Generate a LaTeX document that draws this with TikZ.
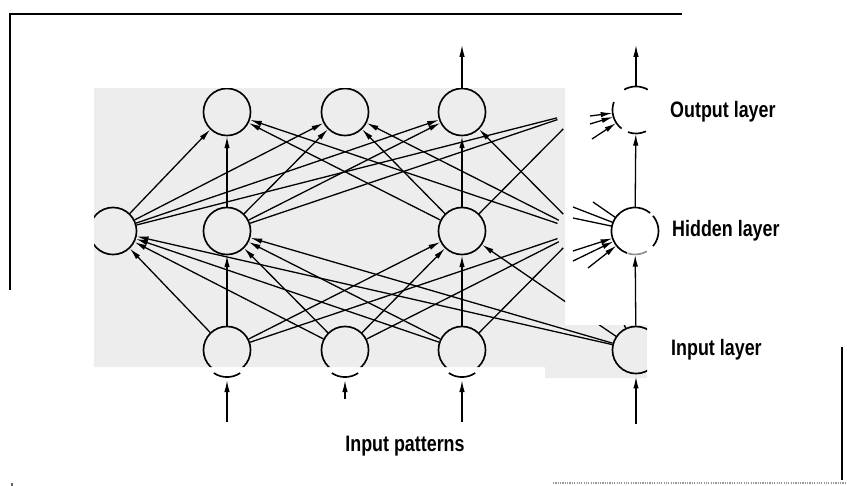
\documentclass[tikz,border=0pt]{standalone}
\usepackage{fontspec}
\setmainfont{Liberation Sans}[FakeStretch=0.8]
\usetikzlibrary{arrows.meta}
\begin{document}
\begin{tikzpicture}[x=0.85pt,y=-0.85pt,
  neuron/.style={circle,draw,line width=1.4pt,minimum size=40pt,inner sep=0pt},
  ghost/.style={circle,minimum size=40pt,inner sep=0pt},
  link/.style={line width=1.1pt,-{Latex[length=10pt,width=4.6pt]}},
  plain/.style={line width=1.1pt},
  arcline/.style={line width=1.4pt},
  frame/.style={line width=1.7pt},
  lab/.style={font=\fontsize{19}{22}\selectfont\bfseries,anchor=west,inner sep=0pt}]
\useasboundingbox (0,0) rectangle (847,486);
% scanned gray patch
\fill[black!7] (94,88) -- (565,88) -- (565,325) -- (647,325) -- (647,378) -- (545,378) -- (545,367) -- (94,367) -- cycle;
% main network (clipped patch)
\begin{scope}
\clip (94,88) -- (565,88) -- (565,325) -- (647,325) -- (647,378) -- (545,378) -- (545,367) -- (94,367) -- cycle;
\node[neuron] (O1) at (227,112) {};
\node[neuron] (O2) at (345,112) {};
\node[neuron] (O3) at (462,112) {};
\node[ghost] (O5) at (580,112) {};
\node[neuron] (H0) at (113,231) {};
\node[neuron] (H1) at (227,231) {};
\node[neuron] (H3) at (462,231) {};
\node[ghost] (H5) at (580,231) {};
\node[neuron] (I1) at (227,350) {};
\node[neuron] (I2) at (345,350) {};
\node[neuron] (I3) at (462,350) {};
\node[neuron] (I4) at (636,350) {};
\foreach \h in {H0,H1,H3,H5} \foreach \o in {O1,O2,O3} \draw[link] (\h) -- (\o);
\foreach \h in {H0,H1,H3} \draw[plain] (\h) -- (O5);
\foreach \i in {I1,I2,I3,I4} \foreach \h in {H0,H1,H3} \draw[link] (\i) -- (\h);
\foreach \i in {I1,I2,I3,I4} \draw[plain] (\i) -- (H5);
\end{scope}
% right column (partly erased neurons)
\node[ghost] (O4) at (636,110) {};
\node[ghost] (H4) at (635,231) {};
\draw[arcline] ([shift={(60:20pt)}]O4.center) arc[start angle=60,end angle=120,radius=20pt];
\draw[arcline] ([shift={(160:20pt)}]O4.center) arc[start angle=160,end angle=232,radius=20pt];
\draw[arcline] ([shift={(250:20pt)}]O4.center) arc[start angle=250,end angle=295,radius=20pt];
\draw[arcline] ([shift={(50:20pt)}]H4.center) arc[start angle=50,end angle=250,radius=20pt];
\draw[arcline,black!45] ([shift={(252:20pt)}]H4.center) arc[start angle=252,end angle=300,radius=20pt];
\draw[arcline] ([shift={(-40:20pt)}]H4.center) arc[start angle=-40,end angle=40,radius=20pt];
% outputs
\coordinate (o3out) at (462,45);
\coordinate (o4out) at (636,45);
\draw[link] (O3) -- (o3out);
\draw[link] (O4) -- (o4out);
\draw[link] (H4) -- (O4);
\draw[link] (I4) -- (H4);
% stubs into right column
\coordinate (a1) at (590,116);
\coordinate (a2) at (590,124);
\coordinate (a3) at (592,139);
\foreach \c in {a1,a2,a3} \draw[link] (\c) -- (O4);
\coordinate (b1) at (573,207);
\coordinate (b2) at (593,202);
\coordinate (b3) at (573,218);
\foreach \c in {b1,b2,b3} \draw[plain] (\c) -- (H4);
\coordinate (c1) at (573,251);
\coordinate (c2) at (573,261);
\coordinate (c3) at (588,268);
\foreach \c in {c1,c2,c3} \draw[link] (\c) -- (H4);
% input caps and arrows
\foreach \n in {I1,I2,I3}
  \draw[arcline] ([yshift=-3pt]\n.center) ++(236:20pt) arc[start angle=236,end angle=304,radius=20pt];
\coordinate (in1) at (227,422);
\coordinate (in2) at (345,399);
\coordinate (in3) at (462,422);
\coordinate (in4) at (636,424);
\draw[link] (in1) -- ([yshift=-5pt]I1.south);
\draw[link] (in2) -- ([yshift=-5pt]I2.south);
\draw[link] (in3) -- ([yshift=-5pt]I3.south);
\draw[link] (in4) -- ([yshift=-2pt]I4.south);
% frame fragments
\draw[frame] (682,14) -- (10,14) -- (10,290);
\draw[frame] (842,347) -- (842,480);
\draw[black!40,densely dotted,line width=1pt] (553,483) -- (845,483);
\fill[black!60] (11,483) rectangle (13,486);
% labels
\node[lab] (lo) at (670,112) {Output layer};
\node[lab] (lh) at (672,231) {Hidden layer};
\node[lab] (li) at (671,350) {Input layer};
\node[lab,anchor=center] (lp) at (405,446) {Input patterns};
\end{tikzpicture}
\end{document}
